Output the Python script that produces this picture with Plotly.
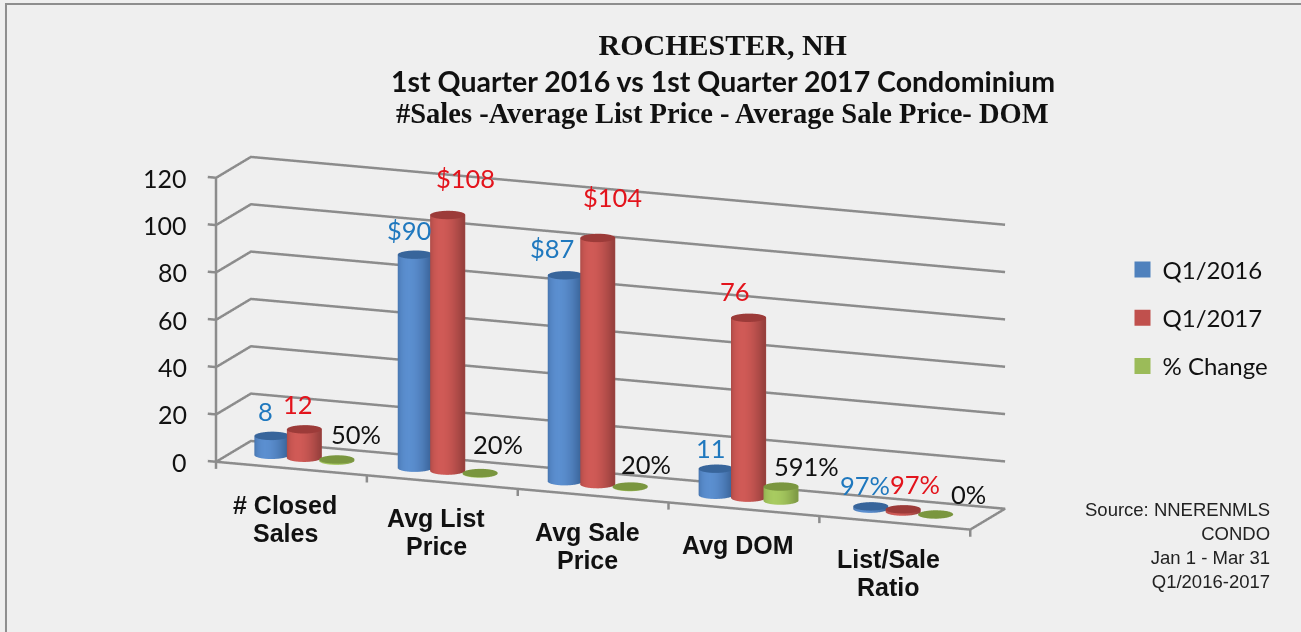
import math
import plotly.graph_objects as go

categories = ["# Closed<br>Sales", "Avg List<br>Price", "Avg Sale<br>Price", "Avg DOM", "List/Sale<br>Ratio"]
series_names = ["Q1/2016", "Q1/2017", "% Change"]
q1_2016 = [8, 90, 87, 11, 0.97]
q1_2017 = [12, 108, 104, 76, 0.97]
pct_change = [0.5, 0.2, 0.2, 5.91, 0.0]
labels_2016 = ["8", "$90", "$87", "11", "97%"]
labels_2017 = ["12", "$108", "$104", "76", "97%"]
labels_change = ["50%", "20%", "20%", "591%", "0%"]
z_ticks = [0, 20, 40, 60, 80, 100, 120]

# style only: label nudges in pixels per series, and group drift along the category axis
nudge_x = [[-6, -6, -13, -5, -6], [-6, 18, 15, -14, 12], [19, 18, 16, 25, 33]]
nudge_y = [[25, 25, 27, 21, 21], [25, 37, 41, 27, 25], [25, 29, 23, 21, 20]]
group_drift = [0.47, 1.42, 2.415, 3.415, 4.44]

SIDE = [("#3A6499", "#5B8FD0"), ("#96403D", "#D05A56"), ("#7E9A45", "#A8CB60")]
TOP = ["#38659B", "#9C3B39", "#7A963F"]
LEG = ["#4F81BD", "#C0504D", "#9BBB59"]
LABEL = ["#1F78BE", "#E3141C", "#111111"]
GRID = "#8C8C8C"
BG = "#EFEFEF"

def mix(a, b, t):
    ca = [int(a[i:i + 2], 16) for i in (1, 3, 5)]
    cb = [int(b[i:i + 2], 16) for i in (1, 3, 5)]
    return "#%02x%02x%02x" % tuple(round(p + (q - p) * t) for p, q in zip(ca, cb))

def cylinder(cx, h, k, name):
    n, rx, ry, cy = 40, 0.108, 0.19, 0.5
    xs, ys, zs, cols, I, J, K = [], [], [], [], [], [], []
    for layer_z in (0, h):
        for a in range(n):
            t = 2 * math.pi * a / n
            xs.append(cx + rx * math.cos(t)); ys.append(cy + ry * math.sin(t)); zs.append(layer_z)
            cols.append(mix(SIDE[k][0], SIDE[k][1], abs(math.sin(t)) ** 1.5))
    for a in range(n):
        b = (a + 1) % n
        I += [a, a]; J += [b, b + n]; K += [b + n, a + n]
    base = len(xs)
    for a in range(n):
        t = 2 * math.pi * a / n
        xs.append(cx + rx * math.cos(t)); ys.append(cy + ry * math.sin(t)); zs.append(h)
        cols.append(TOP[k])
    xs.append(cx); ys.append(cy); zs.append(h); cols.append(TOP[k])
    for a in range(n):
        I.append(base + n); J.append(base + a); K.append(base + (a + 1) % n)
    return go.Mesh3d(x=xs, y=ys, z=zs, i=I, j=J, k=K, vertexcolor=cols, flatshading=False,
                     lighting=dict(ambient=1, diffuse=0, specular=0, roughness=1, fresnel=0),
                     hoverinfo="skip", showlegend=False, showscale=False, name=name)

fig = go.Figure()
all_series = [q1_2016, q1_2017, pct_change]
offsets = [-0.215, 0, 0.215]
for k, vals in enumerate(all_series):
    for i, v in enumerate(vals):
        fig.add_trace(cylinder(group_drift[i] + offsets[k], v, k, series_names[k]))

n_cat = len(categories)
LW = 5
def line(x, y, z, w=LW):
    fig.add_trace(go.Scatter3d(x=x, y=y, z=z, mode="lines", line=dict(color=GRID, width=w),
                               showlegend=False, hoverinfo="skip"))

line([0, n_cat, n_cat, 0, 0], [0, 0, 1, 1, 0], [0] * 5)
for z in z_ticks:
    line([0, 0, n_cat], [0, 1, 1], [z, z, z])
    line([-0.055, 0], [0, 0], [z, z])
line([0, 0], [0, 0], [0, z_ticks[-1]])
for i in range(n_cat + 1):
    line([i, i], [0, 0], [0, -3])

for k, nm in enumerate(series_names):
    fig.add_trace(go.Scatter3d(x=[None], y=[None], z=[None], mode="markers", name=nm,
                               legendgroup=nm,
                               marker=dict(symbol="square", size=16, color=LEG[k])))

ann3d = []
FONT = "Lato, 'Open Sans', sans-serif"
for z in z_ticks:
    ann3d.append(dict(x=0, y=0, z=z, text=str(z), showarrow=False, xanchor="right", xshift=-27,
                      font=dict(family=FONT, size=25, color="#111111")))
for i, c in enumerate(categories):
    for j, part in enumerate(c.split("<br>")):
        ann3d.append(dict(x=i + 0.5, y=0, z=0, text="<b>" + part + "</b>",
                          showarrow=False, yanchor="top", yshift=-20 - 28 * j, xshift=-6,
                          font=dict(family="Liberation Sans, Arial, sans-serif", size=25, color="#111111")))
all_labels = [labels_2016, labels_2017, labels_change]
for k, labs in enumerate(all_labels):
    for i, t in enumerate(labs):
        ann3d.append(dict(x=group_drift[i] + offsets[k], y=0.5, z=all_series[k][i], text=t, showarrow=False,
                          yanchor="middle", xanchor="center", yshift=nudge_y[k][i], xshift=nudge_x[k][i],
                          font=dict(family=FONT, size=25.5, color=LABEL[k])))

SCALE = 0.924
cx, cz = 0.155 * SCALE, 0.119 * SCALE
fig.update_layout(
    width=1301, height=632, paper_bgcolor=BG, plot_bgcolor=BG,
    margin=dict(l=0, r=0, t=0, b=0), hovermode=False,
    title=dict(text="<b>ROCHESTER, NH</b>", x=0.5555, xanchor="center", y=0.9288, yanchor="middle",
               font=dict(family="Liberation Serif, serif", size=30, color="#111111")),
    legend=dict(x=0.8628, y=0.497, yanchor="middle", xanchor="left", bgcolor="rgba(0,0,0,0)",
                tracegroupgap=14, font=dict(family=FONT, size=24, color="#111111"), itemsizing="trace"),
    scene=dict(
        domain=dict(x=[0, 1], y=[0, 1]),
        aspectmode="manual", aspectratio=dict(x=2.82 * SCALE, y=0.3366 * SCALE, z=1.0375 * SCALE),
        xaxis=dict(range=[-0.06, n_cat + 0.03], visible=False),
        yaxis=dict(range=[-0.01, 1.01], visible=False),
        zaxis=dict(range=[-3.5, 121], visible=False),
        bgcolor="rgba(0,0,0,0)",
        camera=dict(projection=dict(type="orthographic"),
                    up=dict(x=0, y=0, z=1),
                    center=dict(x=cx, y=0, z=cz),
                    eye=dict(x=cx + 0.837, y=-2.159, z=cz + 0.552)),
        annotations=ann3d,
    ),
    shapes=[dict(type="rect", xref="paper", yref="paper", x0=0.0046, x1=1.2, y0=-0.2, y1=0.9937,
                 line=dict(color="#8E8E8E", width=2), fillcolor="rgba(0,0,0,0)", layer="above")],
    annotations=[
        dict(x=0.5555, y=0.872, xref="paper", yref="paper", showarrow=False, yanchor="middle",
             text="<b>1st Quarter 2016 vs 1st Quarter 2017 Condominium</b>",
             font=dict(family=FONT, size=28.5, color="#111111")),
        dict(x=0.5555, y=0.82, xref="paper", yref="paper", showarrow=False, yanchor="middle",
             text="<b>#Sales -Average List Price - Average Sale Price- DOM</b>",
             font=dict(family="Liberation Serif, serif", size=28.5, color="#111111")),
        dict(x=0.978, y=0.137, xref="paper", yref="paper", showarrow=False, xanchor="right", yanchor="middle",
             align="right", text="Source: NNERENMLS<br>CONDO<br>Jan 1 - Mar 31<br>Q1/2016-2017",
             font=dict(family="Liberation Sans, Arial, sans-serif", size=18.5, color="#222222")),
    ],
)
fig.write_html("out.html", config={"displayModeBar": False},
               post_script="document.body.style.margin='0';document.body.style.overflow='hidden';")
